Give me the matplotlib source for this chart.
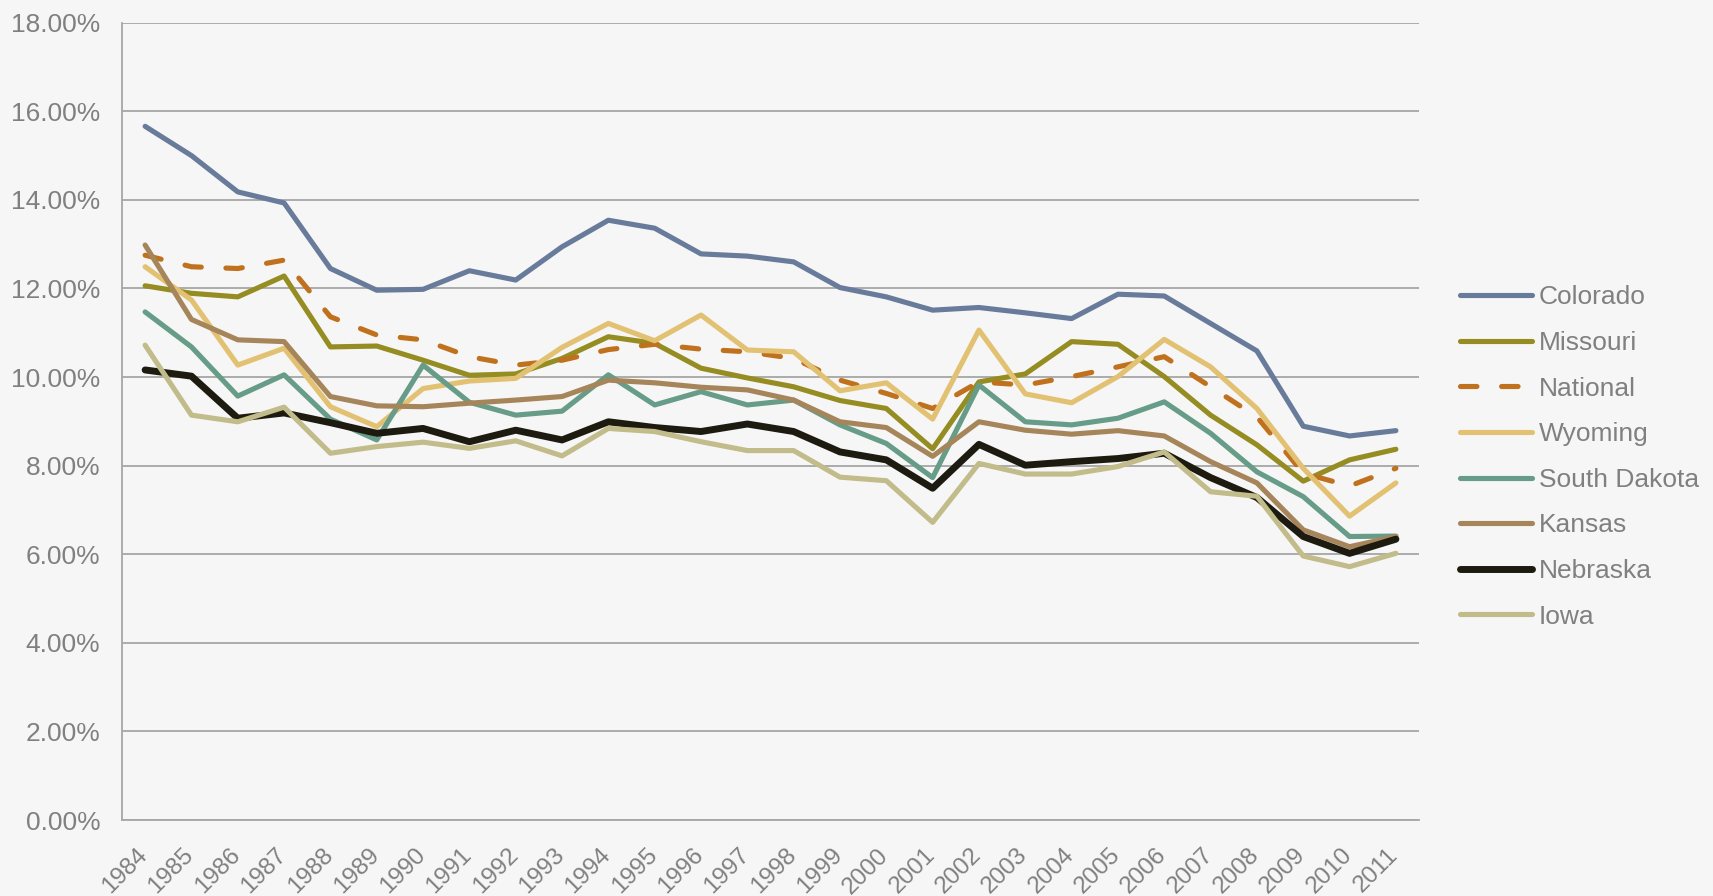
"""Unemployment-style rate chart by state, 1984-2011"""
import matplotlib
matplotlib.use('Agg')
import matplotlib.pyplot as plt
import matplotlib.transforms as mtransforms
from matplotlib.ticker import FuncFormatter

years = [str(y) for y in range(1984, 2012)]

colorado = [15.66, 15.00, 14.18, 13.93, 12.45, 11.96, 11.98, 12.40, 12.19, 12.94,
            13.54, 13.36, 12.78, 12.73, 12.60, 12.02, 11.81, 11.51, 11.57, 11.45,
            11.32, 11.87, 11.83, 11.21, 10.59, 8.89, 8.67, 8.79]
missouri = [12.06, 11.89, 11.81, 12.28, 10.68, 10.70, 10.38, 10.04, 10.07, 10.42,
            10.91, 10.76, 10.20, 9.98, 9.78, 9.47, 9.29, 8.38, 9.89, 10.07,
            10.80, 10.74, 10.01, 9.14, 8.47, 7.65, 8.13, 8.37]
national = [12.75, 12.49, 12.45, 12.64, 11.36, 10.95, 10.84, 10.46, 10.27, 10.38,
            10.62, 10.74, 10.63, 10.57, 10.42, 9.93, 9.63, 9.29, 9.89, 9.82,
            10.01, 10.23, 10.46, 9.78, 9.10, 7.83, 7.54, 7.94]
wyoming = [12.49, 11.74, 10.27, 10.65, 9.33, 8.88, 9.74, 9.91, 9.97, 10.67,
           11.21, 10.82, 11.40, 10.61, 10.57, 9.69, 9.87, 9.05, 11.06, 9.62,
           9.42, 10.01, 10.85, 10.23, 9.29, 7.94, 6.86, 7.61]
south_dakota = [11.47, 10.68, 9.57, 10.05, 9.05, 8.58, 10.27, 9.43, 9.14, 9.23,
                10.05, 9.37, 9.67, 9.37, 9.48, 8.92, 8.50, 7.73, 9.82, 8.99,
                8.92, 9.07, 9.44, 8.73, 7.86, 7.30, 6.40, 6.41]
kansas = [12.98, 11.30, 10.84, 10.80, 9.56, 9.35, 9.33, 9.41, 9.48, 9.56,
          9.93, 9.87, 9.77, 9.71, 9.48, 8.99, 8.86, 8.21, 8.99, 8.80,
          8.71, 8.79, 8.67, 8.09, 7.61, 6.55, 6.17, 6.40]
nebraska = [10.16, 10.02, 9.07, 9.19, 8.97, 8.73, 8.84, 8.54, 8.80, 8.58,
            8.99, 8.86, 8.77, 8.94, 8.77, 8.31, 8.13, 7.49, 8.48, 8.01,
            8.09, 8.16, 8.28, 7.73, 7.28, 6.40, 6.02, 6.34]
iowa = [10.72, 9.14, 8.99, 9.32, 8.28, 8.43, 8.53, 8.39, 8.56, 8.22,
        8.84, 8.77, 8.54, 8.34, 8.34, 7.74, 7.66, 6.72, 8.05, 7.81,
        7.81, 7.98, 8.31, 7.41, 7.31, 5.96, 5.72, 6.02]

series_names = ['Colorado', 'Missouri', 'National', 'Wyoming',
                'South Dakota', 'Kansas', 'Nebraska', 'Iowa']
series_values = [colorado, missouri, national, wyoming,
                 south_dakota, kansas, nebraska, iowa]
series_colors = ['#687b9b', '#958c22', '#c0711d', '#e2c272',
                 '#669c88', '#a7855a', '#1d1a10', '#c2bb8a']

BG = '#f6f6f6'
GRID = '#a6a6a6'
TEXT = '#808080'


def plot_rates(save_path='out.png'):
    plt.rcParams['font.family'] = ['Liberation Sans', 'DejaVu Sans']
    fig = plt.figure(figsize=(17.13, 8.96), dpi=100, facecolor=BG)
    ax = fig.add_axes([0.0712, 0.0848, 0.7572, 0.8899])
    ax.set_facecolor(BG)

    x = list(range(len(years)))
    for name, vals, color in zip(series_names, series_values, series_colors):
        kw = dict(color=color, lw=3.7, solid_joinstyle='round',
                  solid_capstyle='round', label=name)
        if name == 'National':
            kw.update(linestyle=(0, (3.2, 4.8)), dash_capstyle='round')
        if name == 'Nebraska':
            kw['lw'] = 5.0
        ax.plot(x, vals, **kw)

    ax.set_xlim(-0.5, len(years) - 0.5)
    ax.set_ylim(0, 18)
    ax.set_yticks(range(0, 19, 2))
    ax.yaxis.set_major_formatter(FuncFormatter(lambda v, p: f'{v:.2f}%'))
    ax.set_xticks(x)
    ax.set_xticklabels(years, rotation=45, ha='right', va='center',
                       rotation_mode='anchor')

    ax.grid(axis='y', color=GRID, lw=1.3)
    ax.set_axisbelow(True)
    ax.tick_params(length=0, colors=TEXT)
    ax.tick_params(axis='y', pad=15.5, labelsize=19)
    ax.tick_params(axis='x', labelsize=17.5)
    for side in ('top', 'right'):
        ax.spines[side].set_visible(False)
    for side in ('left', 'bottom'):
        ax.spines[side].set_color(GRID)
        ax.spines[side].set_linewidth(1.3)

    # year labels hang lower than the default tick pad
    offset = mtransforms.ScaledTranslation(-0.01, -0.27, fig.dpi_scale_trans)
    for lbl in ax.get_xticklabels():
        lbl.set_transform(lbl.get_transform() + offset)

    leg = fig.legend(loc='center left', bbox_to_anchor=(0.8523, 0.490),
                     frameon=False, fontsize=19, handlelength=2.73,
                     handletextpad=0.25, labelspacing=0.82,
                     borderpad=0, borderaxespad=0)
    for txt in leg.get_texts():
        txt.set_color(TEXT)

    fig.savefig(save_path, dpi=100, facecolor=BG)
    plt.close(fig)


if __name__ == '__main__':
    plot_rates('out.png')
